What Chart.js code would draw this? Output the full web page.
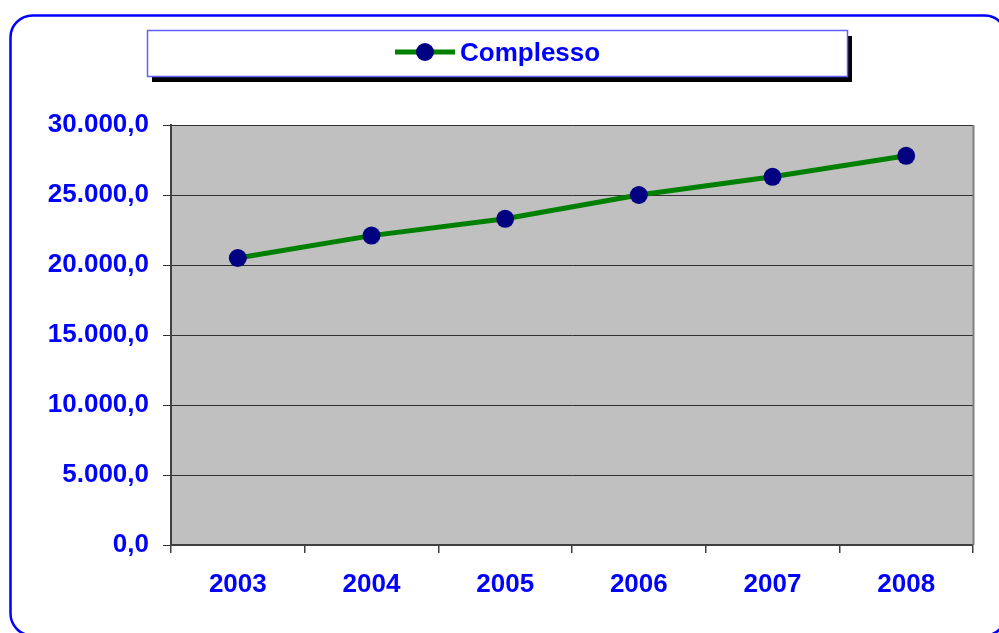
<!DOCTYPE html>
<html>
<head>
<meta charset="utf-8">
<script src="https://cdn.jsdelivr.net/npm/chart.js@4.4.1/dist/chart.umd.min.js"></script>
<style>
html,body{margin:0;padding:0;background:#fff;}
canvas{display:block;}
</style>
</head>
<body>
<canvas id="c" width="999" height="633"></canvas>
<script>
const categories = ['2003','2004','2005','2006','2007','2008'];
const seriesName = 'Complesso';
const complessoValues = [20500, 22100, 23300, 25000, 26300, 27800];
const yTickValues = [0, 5000, 10000, 15000, 20000, 25000, 30000];
const yTickLabels = ['0,0', '5.000,0', '10.000,0', '15.000,0', '20.000,0', '25.000,0', '30.000,0'];

const FONT = '"Liberation Sans", Arial, sans-serif';
const BLUE = '#0000FF';
const GREEN = '#008000';
const NAVY = '#000080';

const decor = {
  id: 'decor',
  beforeDraw(chart) {
    const ctx = chart.ctx;
    const a = chart.chartArea;
    ctx.save();
    ctx.fillStyle = '#C0C0C0';
    ctx.fillRect(a.left, a.top, a.right - a.left, a.bottom - a.top);
    ctx.strokeStyle = BLUE;
    ctx.lineWidth = 2.5;
    ctx.beginPath();
    ctx.roundRect(10.5, 15.5, 996, 620, 22);
    ctx.stroke();
    ctx.restore();
  },
  afterDraw(chart) {
    const ctx = chart.ctx;
    const a = chart.chartArea;
    ctx.save();
    ctx.strokeStyle = '#808080';
    ctx.lineWidth = 2;
    ctx.beginPath();
    ctx.moveTo(a.right + 0.5, a.top);
    ctx.lineTo(a.right + 0.5, a.bottom);
    ctx.stroke();
    const bx = 147, by = 30, bw = 700, bh = 46;
    ctx.fillStyle = '#000';
    ctx.fillRect(bx + 5, by + 6, bw, bh);
    ctx.fillStyle = '#fff';
    ctx.fillRect(bx, by, bw, bh);
    ctx.strokeStyle = '#6060FF';
    ctx.lineWidth = 1.5;
    ctx.strokeRect(bx + 0.5, by + 0.5, bw, bh);
    const ds = chart.data.datasets[0];
    const my = 52;
    ctx.strokeStyle = ds.borderColor;
    ctx.lineWidth = 5;
    ctx.beginPath();
    ctx.moveTo(395, my);
    ctx.lineTo(455, my);
    ctx.stroke();
    ctx.fillStyle = ds.pointBackgroundColor;
    ctx.beginPath();
    ctx.arc(425, my, 9, 0, Math.PI * 2);
    ctx.fill();
    ctx.fillStyle = BLUE;
    ctx.font = 'bold 26px ' + FONT;
    ctx.textAlign = 'left';
    ctx.textBaseline = 'middle';
    ctx.fillText(ds.label, 460, 54);
    ctx.restore();
  }
};

new Chart(document.getElementById('c'), {
  type: 'line',
  data: {
    labels: categories,
    datasets: [{
      label: seriesName,
      data: complessoValues,
      borderColor: GREEN,
      backgroundColor: GREEN,
      borderWidth: 5,
      tension: 0,
      pointRadius: 9,
      pointHoverRadius: 9,
      pointBackgroundColor: NAVY,
      pointBorderColor: NAVY,
      pointBorderWidth: 0,
      fill: false
    }]
  },
  options: {
    responsive: false,
    animation: false,
    devicePixelRatio: 1,
    layout: { padding: { left: 0, top: 125, right: 26, bottom: 0 } },
    plugins: { legend: { display: false }, tooltip: { enabled: false } },
    scales: {
      x: {
        type: 'category',
        offset: true,
        afterFit(s) { s.height = 88; },
        grid: { offset: true, drawOnChartArea: false, drawTicks: true, tickLength: 8, color: '#404040', lineWidth: 1.5 },
        border: { display: true, color: '#404040', width: 2 },
        ticks: { color: BLUE, font: { family: FONT, size: 26, weight: 'bold' }, padding: 16, maxRotation: 0 }
      },
      y: {
        min: 0,
        max: 30000,
        afterFit(s) { s.width = 171; },
        afterBuildTicks(s) { s.ticks = yTickValues.map(v => ({ value: v })); },
        grid: { color: '#303030', lineWidth: 1, tickLength: 8, drawTicks: true },
        border: { display: true, color: '#404040', width: 2 },
        ticks: {
          color: BLUE,
          font: { family: FONT, size: 26, weight: 'bold' },
          padding: 14,
          callback(v) { const i = yTickValues.indexOf(v); return i >= 0 ? yTickLabels[i] : ''; }
        }
      }
    }
  },
  plugins: [decor]
});
</script>
</body>
</html>
